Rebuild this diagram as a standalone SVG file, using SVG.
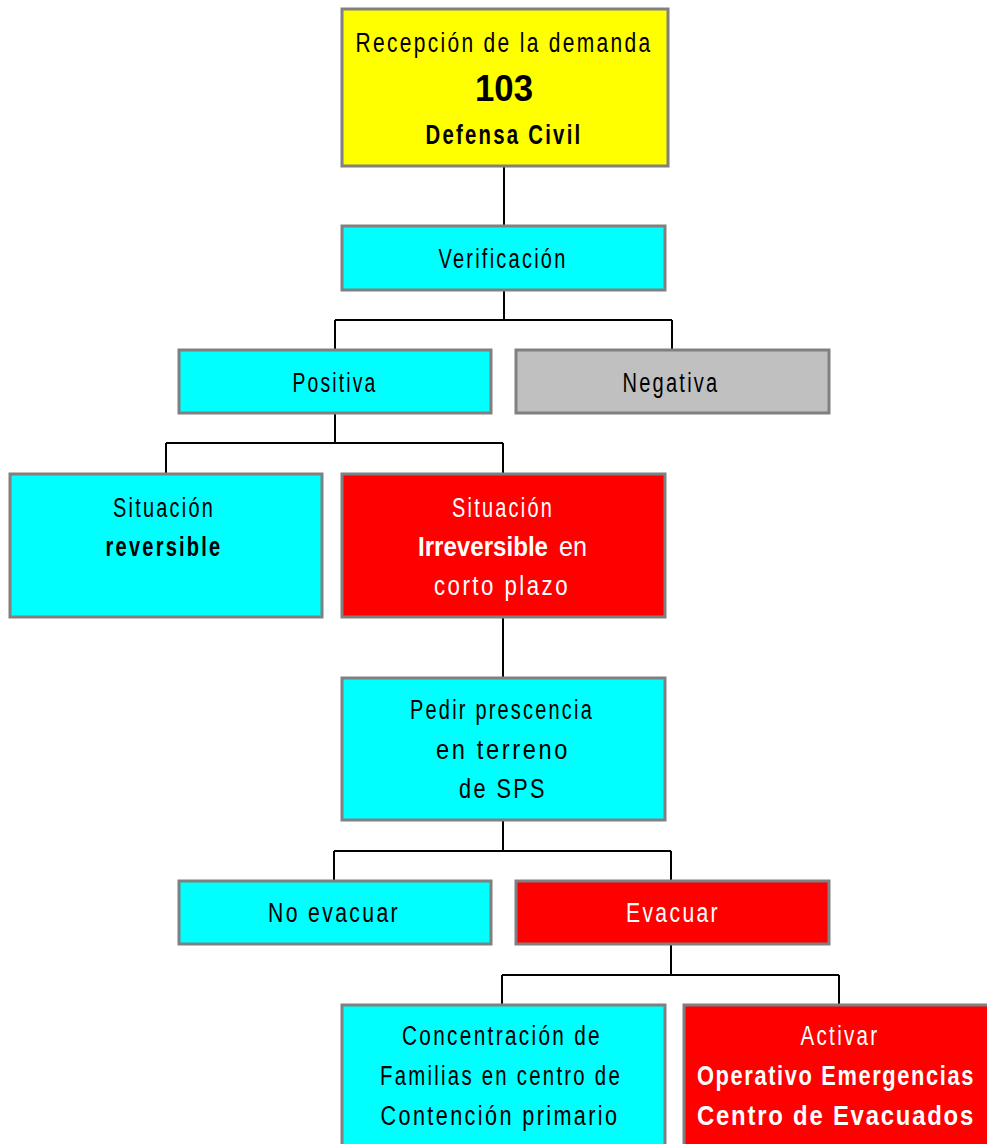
<svg xmlns="http://www.w3.org/2000/svg" width="987" height="1144" viewBox="0 0 987 1144">
<style>
.box{stroke:#808080;stroke-width:3}
.cy{fill:#00FFFF}.rd{fill:#FF0000}.ye{fill:#FFFF00}.gr{fill:#C0C0C0}
text{font-family:"Liberation Sans",Arial,sans-serif;font-size:27px;text-anchor:middle;fill:#000;letter-spacing:3px}
.w{fill:#fff}
.b{font-weight:bold}
.s{text-anchor:start}
.conn{fill:none;stroke:#000;stroke-width:2}
</style>
<rect width="987" height="1144" fill="#fff"/>
<g id="connectors" class="conn">
<path d="M504 166V226"/>
<path d="M504 290V320M335 320H672M335 320V350M672 320V350"/>
<path d="M335 413V443M166 443H503M166 443V474M503 443V474"/>
<path d="M503 617V678"/>
<path d="M503 820V851M334 851H671M334 851V881M671 851V881"/>
<path d="M671 944V975M502 975H839M502 975V1005M839 975V1005"/>
</g>
<g id="n-recepcion">
<rect class="box ye" x="342" y="9" width="326" height="157"/>
<text x="504" y="52" textLength="297" lengthAdjust="spacingAndGlyphs">Recepción de la demanda</text>
<text x="504" y="101" class="b" style="font-size:37px;letter-spacing:0" textLength="58" lengthAdjust="spacingAndGlyphs">103</text>
<text x="504" y="144" class="b" textLength="157" lengthAdjust="spacingAndGlyphs">Defensa Civil</text>
</g>
<g id="n-verificacion">
<rect class="box cy" x="342" y="226" width="323" height="64"/>
<text x="503" y="268" textLength="129" lengthAdjust="spacingAndGlyphs">Verificación</text>
</g>
<g id="n-positiva">
<rect class="box cy" x="179" y="350" width="312" height="63"/>
<text x="335" y="392" textLength="85" lengthAdjust="spacingAndGlyphs">Positiva</text>
</g>
<g id="n-negativa">
<rect class="box gr" x="516" y="350" width="313" height="63"/>
<text x="671" y="392" textLength="97" lengthAdjust="spacingAndGlyphs">Negativa</text>
</g>
<g id="n-reversible">
<rect class="box cy" x="10" y="474" width="312" height="143"/>
<text x="164" y="517" textLength="102" lengthAdjust="spacingAndGlyphs">Situación</text>
<text x="164" y="556" class="b" textLength="117" lengthAdjust="spacingAndGlyphs">reversible</text>
</g>
<g id="n-irreversible">
<rect class="box rd" x="342" y="474" width="323" height="143"/>
<text x="503" y="517" class="w" textLength="102" lengthAdjust="spacingAndGlyphs">Situación</text>
<text x="418" y="556" class="w b s" style="letter-spacing:0" textLength="130" lengthAdjust="spacingAndGlyphs">Irreversible</text>
<text x="559" y="556" class="w s" style="letter-spacing:0" textLength="28" lengthAdjust="spacingAndGlyphs">en</text>
<text x="502" y="595" class="w" textLength="136" lengthAdjust="spacingAndGlyphs">corto plazo</text>
</g>
<g id="n-pedir">
<rect class="box cy" x="342" y="678" width="323" height="142"/>
<text x="502" y="719" textLength="184" lengthAdjust="spacingAndGlyphs">Pedir prescencia</text>
<text x="503" y="759" textLength="134" lengthAdjust="spacingAndGlyphs">en terreno</text>
<text x="503" y="798" textLength="88" lengthAdjust="spacingAndGlyphs">de SPS</text>
</g>
<g id="n-noevacuar">
<rect class="box cy" x="179" y="881" width="312" height="63"/>
<text x="334" y="922" textLength="132" lengthAdjust="spacingAndGlyphs">No evacuar</text>
</g>
<g id="n-evacuar">
<rect class="box rd" x="516" y="881" width="313" height="63"/>
<text x="673" y="922" class="w" textLength="94" lengthAdjust="spacingAndGlyphs">Evacuar</text>
</g>
<g id="n-concentracion">
<rect class="box cy" x="342" y="1005" width="323" height="145"/>
<text x="502" y="1045" textLength="200" lengthAdjust="spacingAndGlyphs">Concentración de</text>
<text x="501" y="1085" textLength="242" lengthAdjust="spacingAndGlyphs">Familias en centro de</text>
<text x="500" y="1125" textLength="239" lengthAdjust="spacingAndGlyphs">Contención primario</text>
</g>
<g id="n-activar">
<rect class="box rd" x="684" y="1005" width="320" height="145"/>
<text x="840" y="1045" class="w" textLength="79" lengthAdjust="spacingAndGlyphs">Activar</text>
<text x="836" y="1085" class="w b" style="letter-spacing:2px" textLength="278" lengthAdjust="spacingAndGlyphs">Operativo Emergencias</text>
<text x="836" y="1125" class="w b" style="letter-spacing:2px" textLength="278" lengthAdjust="spacingAndGlyphs">Centro de Evacuados</text>
</g>
</svg>
